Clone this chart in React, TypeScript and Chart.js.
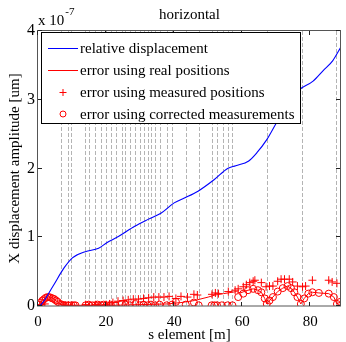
import React, { useEffect, useRef } from "react";
import { Chart, registerables } from "chart.js";
Chart.register(...registerables);

// ---- data (displacement values in units of 1e-7 um) ----
const sBlue = [0, 0.9, 4.3, 7.6, 10.1, 13.9, 17.8, 20.2, 23.6, 28.4, 32.3, 36.1, 40.0, 43.0, 47.0, 51.8, 55.7, 58.1, 61.9, 64.3, 67.2, 70.1, 73.0, 76.4, 80.8, 83.7, 86.6, 89];
const relDisp = [0, 0.02, 0.28, 0.55, 0.70, 0.79, 0.84, 0.92, 1.01, 1.16, 1.26, 1.35, 1.50, 1.57, 1.67, 1.84, 2.0, 2.04, 2.11, 2.23, 2.42, 2.67, 2.9, 3.13, 3.27, 3.42, 3.57, 3.77];

const sReal = [0, 0.5, 1, 1.5, 2, 2.5, 3, 3.5, 4, 4.5, 5, 5.5, 6, 6.5, 7, 8, 10, 14, 18, 22, 30, 38, 42, 46, 50, 52, 54.5, 58.3, 59.5, 61, 63.2, 64.6, 65.6, 66.6, 67.2, 68, 69, 70.4, 71.9, 73.3, 74.3, 75.3, 76.2, 77.2, 78.2, 79.4, 80.6, 82.5, 85.4, 86.9, 87.8, 88.8, 89];
const errReal = [0, 0.04, 0.07, 0.09, 0.11, 0.12, 0.13, 0.13, 0.12, 0.11, 0.09, 0.07, 0.05, 0.03, 0.02, 0.01, 0.01, 0.01, 0.01, 0.01, 0.02, 0.03, 0.05, 0.08, 0.13, 0.16, 0.18, 0.21, 0.19, 0.22, 0.25, 0.23, 0.2, 0.11, 0.03, 0.08, 0.13, 0.21, 0.26, 0.29, 0.26, 0.2, 0.13, 0.03, 0.11, 0.18, 0.2, 0.19, 0.18, 0.13, 0.03, 0.06, 0.07];

const sMeas = [1, 2, 8, 9, 10, 14, 15, 17, 18, 20, 21, 22, 23.5, 25, 26.5, 28, 29.5, 31, 32.5, 34, 35.5, 37, 38.5, 40.5, 42, 43.9, 45.8, 46.8, 51.1, 52.1, 53, 55.9, 57.9, 58.8, 60.3, 61.2, 62.2, 63.2, 63.7, 65.6, 67.0, 68.0, 69.0, 70.4, 71.4, 72.4, 73.8, 74.8, 76.2, 77.7, 78.6, 80.6, 85.4, 86.4, 87.8];
const errMeas = [0.02, 0.03, 0.01, 0.01, 0.01, 0.02, 0.01, 0.02, 0.01, 0.02, 0.03, 0.05, 0.07, 0.08, 0.09, 0.1, 0.1, 0.11, 0.12, 0.13, 0.13, 0.13, 0.14, 0.11, 0.14, 0.13, 0.17, 0.16, 0.17, 0.19, 0.18, 0.21, 0.23, 0.25, 0.28, 0.31, 0.34, 0.36, 0.375, 0.34, 0.28, 0.29, 0.29, 0.36, 0.39, 0.39, 0.39, 0.35, 0.29, 0.28, 0.29, 0.375, 0.375, 0.35, 0.33];

const sCorr = [0.3, 0.8, 1.3, 1.8, 2.3, 2.8, 3.3, 3.8, 4.3, 4.8, 5.3, 5.8, 6.5, 7, 7.5, 8, 8.8, 9.8, 10.5, 11, 14, 14.9, 16, 16.8, 17.5, 18.5, 19.3, 20.1, 21.4, 22.8, 24.6, 25.7, 27, 28.6, 29.9, 31, 32.2, 33.2, 34.4, 35.7, 37.8, 39.4, 40.5, 43.4, 45.8, 47.2, 51, 51.8, 52.6, 54, 55.7, 57.1, 58.8, 60.3, 61.7, 63.2, 64.6, 65.6, 66.6, 67.2, 68, 69, 70.4, 71.9, 73.3, 74.3, 75.3, 76.2, 77.2, 78.2, 79.4, 80.6, 82.5, 85.4, 86.9, 87.8, 88.8];
const errCorr = [0.02, 0.05, 0.08, 0.1, 0.12, 0.13, 0.13, 0.12, 0.11, 0.1, 0.08, 0.06, 0.03, 0.02, 0.01, 0.01, 0.01, 0.01, 0.01, 0.01, 0.01, 0.02, 0.01, 0.01, 0.02, 0.01, 0.02, 0.01, 0.02, 0.01, 0.03, 0.02, 0.01, 0.03, 0.01, 0.02, 0.01, 0.02, 0.01, 0.02, 0.01, 0.02, 0.06, 0.02, 0.05, 0.01, 0.01, 0.01, 0.01, 0.01, 0.01, 0.01, 0.13, 0.18, 0.23, 0.25, 0.23, 0.2, 0.11, 0.03, 0.08, 0.13, 0.21, 0.26, 0.29, 0.26, 0.2, 0.13, 0.03, 0.11, 0.18, 0.2, 0.19, 0.18, 0.13, 0.03, 0.06];

const elementPositions = [6.9, 8.8, 9.8, 13.9, 14.9, 16.8, 18.5, 20.1, 21.4, 22.8, 24.6, 25.7, 27.0, 28.6, 29.9, 31.0, 32.2, 33.2, 34.4, 35.7, 37.8, 39.4, 43.4, 47.2, 51.0, 52.6, 54.2, 55.7, 57.1, 67.2, 77.4, 87.5];

const xTicks = [0, 20, 40, 60, 80];
const yTicks = [0, 1, 2, 3, 4];
const legendLabels = [
  "relative displacement",
  "error using real positions",
  "error using measured positions",
  "error using corrected measurements",
];
const titleText = "horizontal";
const xTitle = "s element [m]";
const yTitle = "X displacement amplitude [um]";

const FONT = "'Liberation Serif', 'Times New Roman', serif";
const zip = (xs: number[], ys: number[]) => xs.map((x, i) => ({ x, y: ys[i] }));

const decorPlugin = {
  id: "decor",
  beforeDatasetsDraw(chart: any) {
    const { ctx, chartArea: a, scales } = chart;
    const xs = scales.x;
    ctx.save();
    ctx.beginPath();
    ctx.rect(a.left, a.top, a.right - a.left, a.bottom - a.top);
    ctx.clip();
    ctx.strokeStyle = "#b4b4b4";
    ctx.lineWidth = 1;
    ctx.setLineDash([4, 2]);
    for (const p of elementPositions) {
      const px = Math.round(xs.getPixelForValue(p)) + 0.5;
      ctx.beginPath();
      ctx.moveTo(px, a.top);
      ctx.lineTo(px, a.bottom);
      ctx.stroke();
    }
    ctx.restore();
  },
  afterDatasetsDraw(chart: any) {
    const { ctx, chartArea: a, scales } = chart;
    const xs = scales.x;
    const ys = scales.y;
    ctx.save();
    // box
    ctx.strokeStyle = "#555";
    ctx.lineWidth = 1;
    ctx.setLineDash([]);
    ctx.strokeRect(a.left - 0.5, a.top - 0.5, a.right - a.left, a.bottom - a.top + 0.5);
    // inward ticks
    ctx.strokeStyle = "#222";
    for (const t of xTicks) {
      const px = Math.round(xs.getPixelForValue(t)) - 0.5;
      ctx.beginPath();
      ctx.moveTo(px, a.bottom);
      ctx.lineTo(px, a.bottom - 4);
      ctx.moveTo(px, a.top);
      ctx.lineTo(px, a.top + 4);
      ctx.stroke();
    }
    for (const t of yTicks) {
      const py = Math.round(ys.getPixelForValue(t)) - 0.5;
      ctx.beginPath();
      ctx.moveTo(a.left, py);
      ctx.lineTo(a.left + 4, py);
      ctx.moveTo(a.right - 1, py);
      ctx.lineTo(a.right - 5, py);
      ctx.stroke();
    }
    // legend
    const lx = 41.5, ly = 32.5, lw = 259, lh = 91;
    ctx.fillStyle = "#fff";
    ctx.fillRect(lx, ly, lw, lh);
    ctx.strokeStyle = "#000";
    ctx.strokeRect(lx, ly, lw, lh);
    ctx.font = `15px ${FONT}`;
    ctx.textBaseline = "middle";
    ctx.textAlign = "left";
    legendLabels.forEach((lab, i) => {
      const y = 48 + i * 22;
      ctx.strokeStyle = i === 0 ? "#0000ff" : "#ff0000";
      ctx.lineWidth = 1;
      if (i < 2) {
        ctx.beginPath();
        ctx.moveTo(48, y + 0.5);
        ctx.lineTo(78, y + 0.5);
        ctx.stroke();
      } else if (i === 2) {
        ctx.beginPath();
        ctx.moveTo(59.5, y + 0.5);
        ctx.lineTo(66.5, y + 0.5);
        ctx.moveTo(63, y - 3);
        ctx.lineTo(63, y + 4);
        ctx.stroke();
      } else {
        ctx.beginPath();
        ctx.arc(63, y, 3, 0, Math.PI * 2);
        ctx.stroke();
      }
      ctx.fillStyle = "#000";
      ctx.fillText(lab, 80, y + 1);
    });
    // exponent
    ctx.fillStyle = "#000";
    ctx.font = `15px ${FONT}`;
    ctx.textBaseline = "middle";
    ctx.fillText("x 10", 38, 21);
    const w = ctx.measureText("x 10").width;
    ctx.font = `11px ${FONT}`;
    ctx.fillText("-7", 38 + w + 1, 12);
    // title
    ctx.font = `15px ${FONT}`;
    ctx.textAlign = "center";
    ctx.fillText(titleText, (a.left + a.right) / 2, 15);
    ctx.restore();
  },
};

export default function App() {
  const ref = useRef<HTMLCanvasElement | null>(null);
  useEffect(() => {
    document.body.style.margin = "0";
    const canvas = ref.current;
    if (!canvas) return;
    const chart = new Chart(canvas, {
      type: "scatter",
      data: {
        datasets: [
          {
            label: legendLabels[0],
            data: zip(sBlue, relDisp),
            showLine: true,
            borderColor: "#0000ff",
            borderWidth: 1.1,
            pointRadius: 0,
            cubicInterpolationMode: "monotone",
          },
          {
            label: legendLabels[1],
            data: zip(sReal, errReal),
            showLine: true,
            borderColor: "#ff0000",
            borderWidth: 1,
            pointRadius: 0,
          },
          {
            label: legendLabels[2],
            data: zip(sMeas, errMeas),
            showLine: false,
            borderColor: "#ff0000",
            backgroundColor: "#ff0000",
            pointStyle: "cross",
            pointRadius: 4,
            pointBorderWidth: 1,
          },
          {
            label: legendLabels[3],
            data: zip(sCorr, errCorr),
            showLine: false,
            borderColor: "#ff0000",
            backgroundColor: "rgba(0,0,0,0)",
            pointStyle: "circle",
            pointRadius: 3.5,
            pointBorderWidth: 1,
          },
        ],
      },
      options: {
        responsive: false,
        animation: false,
        devicePixelRatio: 1,
        layout: { padding: { top: 31, right: 1, left: 0, bottom: 0 } },
        plugins: { legend: { display: false }, tooltip: { enabled: false }, title: { display: false } },
        scales: {
          x: {
            type: "linear",
            min: 0,
            max: 89,
            grid: { display: false, drawTicks: false },
            border: { display: false },
            ticks: {
              stepSize: 20,
              includeBounds: false,
              maxRotation: 0,
              color: "#000",
              padding: 9,
              font: { family: FONT, size: 15, lineHeight: 1 },
            },
            title: {
              display: true,
              text: xTitle,
              color: "#000",
              padding: { top: 0, bottom: -1 },
              font: { family: FONT, size: 15, lineHeight: 1 },
            },
            afterFit: (s: any) => {
              s.height = 36;
            },
          },
          y: {
            type: "linear",
            min: 0,
            max: 4,
            grid: { display: false, drawTicks: false },
            border: { display: false },
            ticks: {
              stepSize: 1,
              includeBounds: false,
              color: "#000",
              padding: 3,
              font: { family: FONT, size: 16, lineHeight: 1 },
            },
            title: {
              display: true,
              text: yTitle,
              color: "#000",
              padding: { top: 8, bottom: 0 },
              font: { family: FONT, size: 15, lineHeight: 1 },
            },
            afterFit: (s: any) => {
              s.width = 38;
            },
          },
        },
      },
      plugins: [decorPlugin],
    } as any);
    return () => chart.destroy();
  }, []);
  return (
    <div style={{ width: 346, height: 342 }}>
      <canvas ref={ref} width={346} height={342} style={{ display: "block" }} />
    </div>
  );
}
